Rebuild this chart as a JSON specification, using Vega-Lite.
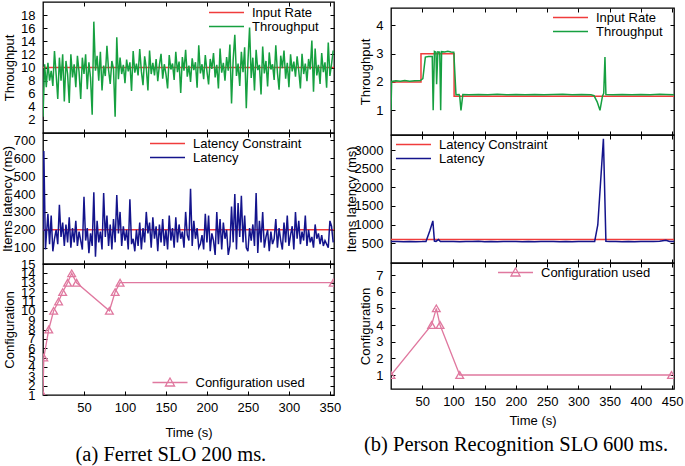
{
"$schema":"https://vega.github.io/schema/vega-lite/v6.json",
"background":"white",
"padding":{"left":0,"top":0,"right":5,"bottom":5},
"config":{
 "view":{"stroke":"black","strokeWidth":1.3},
 "axis":{"grid":false,"domain":false,"tickSize":-4,"tickColor":"black","tickWidth":1,"labelFont":"Liberation Sans","labelFontSize":13,"labelColor":"black","titleFont":"Liberation Sans","titleFontSize":13,"titleFontWeight":"normal","titleColor":"black","labelFlush":false,"labelOverlap":false,"format":"d"},
 "axisLeft":{"labelPadding":12},
 "axisBottom":{"labelPadding":10},
 "legend":{"orient":"none","labelFont":"Liberation Sans","labelFontSize":13,"labelColor":"black","symbolSize":49,"symbolStrokeWidth":1.5,"labelOffset":19,"rowPadding":-3,"padding":0,"symbolType":"M-5,0H5","symbolFillColor":"transparent"},
 "title":{"font":"Liberation Serif","fontSize":20.5,"fontWeight":"normal","color":"black"}
},
"spacing":2,
"resolve":{"scale":{"color":"independent"},"legend":{"color":"independent"}},
"hconcat":[
{
 "bounds":"flush","spacing":0,
 "resolve":{"scale":{"color":"independent"},"legend":{"color":"independent"}},
 "title":{"text":"(a) Ferret SLO 200 ms.","orient":"bottom","anchor":"middle","dx":0,"offset":5},
 "vconcat":[
 {
  "width":291,"height":131,
  "layer":[
   {"data":{"values":[{"t":0,"v":10},{"t":355,"v":10}]},
    "mark":{"type":"line","strokeWidth":1.5,"clip":true},
    "encoding":{
     "x":{"field":"t","type":"quantitative","scale":{"domain":[0,355],"nice":false,"zero":false},"axis":{"orient":"bottom","values":[50,100,150,200,250,300,350],"labels":false,"title":null}},
     "y":{"field":"v","type":"quantitative","scale":{"domain":[0,20],"nice":false,"zero":false},"axis":{"orient":"left","values":[2,4,6,8,10,12,14,16,18],"title":"Throughput","titleX":-34,"titleY":65.5,"titleAngle":-90,"titleAlign":"center","titleBaseline":"middle"}},
     "color":{"datum":"Input Rate","type":"nominal","scale":{"domain":["Input Rate","Throughput"],"range":["#f03c3c","#16a040"]},"legend":{"title":null,"legendX":177,"legendY":4}}
    }},
   {"data":{"values":[{"t":0,"v":2.5},{"t":2,"v":10.5},{"t":4,"v":7},{"t":6,"v":10.7},{"t":8,"v":8},{"t":10,"v":9.5},{"t":12,"v":7.2},{"t":14,"v":12.5},{"t":16,"v":9},{"t":18,"v":5.2},{"t":20,"v":11.5},{"t":22,"v":8},{"t":24,"v":12},{"t":26,"v":4.8},{"t":28,"v":11},{"t":30,"v":9},{"t":32,"v":4.6},{"t":34,"v":12},{"t":36,"v":8.5},{"t":38,"v":10.5},{"t":40,"v":7},{"t":42,"v":11.8},{"t":44,"v":9.3},{"t":46,"v":5.2},{"t":48,"v":11.5},{"t":50,"v":9},{"t":52,"v":12},{"t":54,"v":6.7},{"t":56,"v":10.8},{"t":58,"v":8.4},{"t":60,"v":2.8},{"t":62,"v":17},{"t":64,"v":9.5},{"t":66,"v":11.8},{"t":68,"v":8},{"t":70,"v":12.4},{"t":72,"v":6.5},{"t":74,"v":10.3},{"t":76,"v":8.7},{"t":78,"v":13.3},{"t":80,"v":9.6},{"t":82,"v":7.5},{"t":84,"v":11},{"t":86,"v":9.8},{"t":88,"v":2.5},{"t":90,"v":14.6},{"t":92,"v":8.2},{"t":94,"v":11.5},{"t":96,"v":9},{"t":98,"v":10.4},{"t":100,"v":7.6},{"t":102,"v":11.2},{"t":104,"v":9.4},{"t":106,"v":10.8},{"t":108,"v":6.4},{"t":110,"v":12.5},{"t":112,"v":9.2},{"t":114,"v":10.6},{"t":116,"v":8.8},{"t":118,"v":12.8},{"t":120,"v":9.4},{"t":122,"v":7.3},{"t":124,"v":11.7},{"t":126,"v":9.9},{"t":128,"v":6.5},{"t":130,"v":12.6},{"t":132,"v":9},{"t":134,"v":10.7},{"t":136,"v":8.8},{"t":138,"v":11.3},{"t":140,"v":7.9},{"t":142,"v":10.4},{"t":144,"v":12.1},{"t":146,"v":8.3},{"t":148,"v":10.5},{"t":150,"v":9},{"t":152,"v":6.8},{"t":154,"v":11.9},{"t":156,"v":9.7},{"t":158,"v":10.6},{"t":160,"v":8.1},{"t":162,"v":12.4},{"t":164,"v":9.3},{"t":166,"v":10.9},{"t":168,"v":6.1},{"t":170,"v":11.6},{"t":172,"v":9.5},{"t":174,"v":12.7},{"t":176,"v":8.6},{"t":178,"v":10.3},{"t":180,"v":7.8},{"t":182,"v":11.4},{"t":184,"v":9.6},{"t":186,"v":10.8},{"t":188,"v":6.9},{"t":190,"v":13.4},{"t":192,"v":9.1},{"t":194,"v":10.5},{"t":196,"v":8.2},{"t":198,"v":11.9},{"t":200,"v":9.4},{"t":202,"v":7.4},{"t":204,"v":11.3},{"t":206,"v":9.8},{"t":208,"v":12.2},{"t":210,"v":8.5},{"t":212,"v":10.4},{"t":214,"v":6.8},{"t":216,"v":12.9},{"t":218,"v":9.2},{"t":220,"v":10.7},{"t":222,"v":8},{"t":224,"v":11.6},{"t":226,"v":9.5},{"t":228,"v":13.5},{"t":230,"v":4.5},{"t":232,"v":11.2},{"t":234,"v":15},{"t":236,"v":8.7},{"t":238,"v":10.6},{"t":240,"v":7.2},{"t":242,"v":12.4},{"t":244,"v":9.3},{"t":246,"v":13.1},{"t":248,"v":3.8},{"t":250,"v":10.9},{"t":252,"v":16.1},{"t":254,"v":8.4},{"t":256,"v":11.5},{"t":258,"v":6.5},{"t":260,"v":12.7},{"t":262,"v":9.6},{"t":264,"v":10.4},{"t":266,"v":5.9},{"t":268,"v":13.2},{"t":270,"v":9.1},{"t":272,"v":11},{"t":274,"v":7.1},{"t":276,"v":12.3},{"t":278,"v":9.7},{"t":280,"v":10.5},{"t":282,"v":8.1},{"t":284,"v":13.4},{"t":286,"v":9.2},{"t":288,"v":6.6},{"t":290,"v":11.8},{"t":292,"v":9.9},{"t":294,"v":12.6},{"t":296,"v":8.3},{"t":298,"v":10.7},{"t":300,"v":7},{"t":302,"v":12},{"t":304,"v":9.4},{"t":306,"v":10.9},{"t":308,"v":8.6},{"t":310,"v":11.7},{"t":312,"v":9.5},{"t":314,"v":6.8},{"t":316,"v":12.1},{"t":318,"v":9},{"t":320,"v":10.6},{"t":322,"v":7.9},{"t":324,"v":11.3},{"t":326,"v":9.7},{"t":328,"v":14.1},{"t":330,"v":6.3},{"t":332,"v":12.9},{"t":334,"v":8.8},{"t":336,"v":10.4},{"t":338,"v":7.5},{"t":340,"v":12.2},{"t":342,"v":9.3},{"t":344,"v":10.8},{"t":346,"v":6.9},{"t":348,"v":13.8},{"t":350,"v":8.7},{"t":352,"v":10.5},{"t":354,"v":12.6}]},
    "mark":{"type":"line","strokeWidth":1.5,"clip":true},
    "encoding":{"x":{"field":"t","type":"quantitative","axis":null},"y":{"field":"v","type":"quantitative","axis":null},"color":{"datum":"Throughput","type":"nominal"}}},
   {"data":{"values":[{"t":0,"v":0}]},"mark":{"type":"point","opacity":0,"size":0},
    "encoding":{"x":{"field":"t","type":"quantitative","axis":{"orient":"top","values":[50,100,150,200,250,300,350],"labels":false,"title":null}},"y":{"field":"v","type":"quantitative","axis":{"orient":"right","values":[2,4,6,8,10,12,14,16,18],"labels":false,"title":null}}}}
  ],
  "resolve":{"axis":{"x":"independent","y":"independent"}}
 },
 {
  "width":291,"height":131,
  "layer":[
   {"data":{"values":[{"t":0,"v":200},{"t":355,"v":200}]},
    "mark":{"type":"line","strokeWidth":1.5,"clip":true},
    "encoding":{
     "x":{"field":"t","type":"quantitative","scale":{"domain":[0,355],"nice":false,"zero":false},"axis":{"orient":"bottom","values":[50,100,150,200,250,300,350],"labels":false,"title":null}},
     "y":{"field":"v","type":"quantitative","scale":{"domain":[9,741],"nice":false,"zero":false},"axis":{"orient":"left","values":[100,200,300,400,500,600,700],"title":"Items latency (ms)","titleX":-36,"titleY":65.5,"titleAngle":-90,"titleAlign":"center","titleBaseline":"middle"}},
     "color":{"datum":"Latency Constraint","type":"nominal","scale":{"domain":["Latency Constraint","Latency"],"range":["#f03c3c","#14148c"]},"legend":{"title":null,"legendX":118,"legendY":4}}
    }},
   {"data":{"values":[{"t":0,"v":190},{"t":1,"v":640},{"t":3,"v":90},{"t":4,"v":160},{"t":6,"v":290},{"t":8,"v":120},{"t":10,"v":280},{"t":12,"v":80},{"t":14,"v":150},{"t":16,"v":200},{"t":18,"v":120},{"t":20,"v":340},{"t":22,"v":160},{"t":24,"v":240},{"t":26,"v":110},{"t":28,"v":230},{"t":30,"v":130},{"t":32,"v":270},{"t":34,"v":100},{"t":36,"v":210},{"t":38,"v":130},{"t":40,"v":250},{"t":42,"v":110},{"t":44,"v":190},{"t":46,"v":140},{"t":48,"v":90},{"t":50,"v":385},{"t":52,"v":140},{"t":54,"v":210},{"t":56,"v":70},{"t":58,"v":180},{"t":60,"v":110},{"t":62,"v":410},{"t":64,"v":50},{"t":66,"v":250},{"t":68,"v":130},{"t":70,"v":190},{"t":72,"v":90},{"t":74,"v":405},{"t":76,"v":160},{"t":78,"v":280},{"t":80,"v":110},{"t":82,"v":230},{"t":84,"v":90},{"t":86,"v":260},{"t":88,"v":130},{"t":90,"v":395},{"t":92,"v":180},{"t":94,"v":300},{"t":96,"v":110},{"t":98,"v":220},{"t":100,"v":140},{"t":102,"v":200},{"t":104,"v":90},{"t":106,"v":370},{"t":108,"v":120},{"t":110,"v":150},{"t":112,"v":80},{"t":114,"v":200},{"t":116,"v":110},{"t":118,"v":240},{"t":120,"v":90},{"t":122,"v":210},{"t":124,"v":130},{"t":126,"v":300},{"t":128,"v":180},{"t":130,"v":240},{"t":132,"v":100},{"t":134,"v":270},{"t":136,"v":150},{"t":138,"v":220},{"t":140,"v":80},{"t":142,"v":230},{"t":144,"v":130},{"t":146,"v":260},{"t":148,"v":110},{"t":150,"v":200},{"t":152,"v":90},{"t":154,"v":280},{"t":156,"v":140},{"t":158,"v":210},{"t":160,"v":100},{"t":162,"v":270},{"t":164,"v":130},{"t":166,"v":230},{"t":168,"v":150},{"t":170,"v":190},{"t":172,"v":100},{"t":174,"v":300},{"t":176,"v":170},{"t":178,"v":140},{"t":180,"v":430},{"t":182,"v":110},{"t":184,"v":250},{"t":186,"v":150},{"t":188,"v":210},{"t":190,"v":100},{"t":192,"v":120},{"t":194,"v":170},{"t":196,"v":90},{"t":198,"v":290},{"t":200,"v":130},{"t":202,"v":280},{"t":204,"v":80},{"t":206,"v":180},{"t":208,"v":140},{"t":210,"v":60},{"t":212,"v":300},{"t":214,"v":120},{"t":216,"v":260},{"t":218,"v":90},{"t":220,"v":240},{"t":222,"v":150},{"t":224,"v":200},{"t":226,"v":60},{"t":228,"v":110},{"t":230,"v":330},{"t":232,"v":130},{"t":234,"v":400},{"t":236,"v":90},{"t":238,"v":350},{"t":240,"v":160},{"t":242,"v":390},{"t":244,"v":130},{"t":246,"v":280},{"t":248,"v":100},{"t":250,"v":80},{"t":252,"v":210},{"t":254,"v":140},{"t":256,"v":230},{"t":258,"v":110},{"t":260,"v":405},{"t":262,"v":70},{"t":264,"v":250},{"t":266,"v":130},{"t":268,"v":300},{"t":270,"v":100},{"t":272,"v":160},{"t":274,"v":200},{"t":276,"v":80},{"t":278,"v":190},{"t":280,"v":120},{"t":282,"v":150},{"t":284,"v":260},{"t":286,"v":100},{"t":288,"v":210},{"t":290,"v":140},{"t":292,"v":90},{"t":294,"v":240},{"t":296,"v":130},{"t":298,"v":280},{"t":300,"v":110},{"t":302,"v":170},{"t":304,"v":220},{"t":306,"v":90},{"t":308,"v":300},{"t":310,"v":150},{"t":312,"v":250},{"t":314,"v":120},{"t":316,"v":190},{"t":318,"v":140},{"t":320,"v":280},{"t":322,"v":110},{"t":324,"v":200},{"t":326,"v":130},{"t":328,"v":160},{"t":330,"v":100},{"t":332,"v":230},{"t":334,"v":150},{"t":336,"v":180},{"t":338,"v":120},{"t":340,"v":170},{"t":342,"v":110},{"t":344,"v":140},{"t":346,"v":120},{"t":348,"v":100},{"t":350,"v":250},{"t":352,"v":220},{"t":354,"v":130}]},
    "mark":{"type":"line","strokeWidth":1.5,"clip":true},
    "encoding":{"x":{"field":"t","type":"quantitative","axis":null},"y":{"field":"v","type":"quantitative","axis":null},"color":{"datum":"Latency","type":"nominal"}}},
   {"data":{"values":[{"t":0,"v":100}]},"mark":{"type":"point","opacity":0,"size":0},
    "encoding":{"x":{"field":"t","type":"quantitative","axis":{"orient":"top","values":[50,100,150,200,250,300,350],"labels":false,"title":null}},"y":{"field":"v","type":"quantitative","axis":{"orient":"right","values":[100,200,300,400,500,600,700],"labels":false,"title":null}}}}
  ],
  "resolve":{"axis":{"x":"independent","y":"independent"}}
 },
 {
  "width":291,"height":131,
  "data":{"values":[{"t":0,"v":1},{"t":1,"v":5},{"t":7,"v":8},{"t":13,"v":10},{"t":19,"v":11},{"t":24,"v":12},{"t":30,"v":13},{"t":35,"v":14},{"t":41,"v":13},{"t":81,"v":10},{"t":88,"v":12},{"t":94,"v":13},{"t":354,"v":13}]},
  "layer":[
   {"mark":{"type":"line","strokeWidth":1.3,"clip":true},
    "encoding":{
     "x":{"field":"t","type":"quantitative","scale":{"domain":[0,355],"nice":false,"zero":false},"axis":{"orient":"bottom","values":[50,100,150,200,250,300,350],"title":"Time (s)","titleY":37,"titleBaseline":"middle"}},
     "y":{"field":"v","type":"quantitative","scale":{"domain":[1,15],"nice":false,"zero":false},"axis":{"orient":"left","values":[1,2,3,4,5,6,7,8,9,10,11,12,13,14,15],"title":"Configuration","titleX":-34,"titleY":65.5,"titleAngle":-90,"titleAlign":"center","titleBaseline":"middle"}},
     "color":{"datum":"Configuration used","type":"nominal","scale":{"domain":["Configuration used"],"range":["#e0789f"]},"legend":{"title":null,"legendX":120.5,"legendY":112,"symbolType":"M-5,0H5M0,-1.3L1.3,1L-1.3,1Z","symbolStrokeWidth":1.3}}
    }},
   {"mark":{"type":"point","shape":"triangle-up","filled":false,"size":60,"strokeWidth":1.3,"color":"#e0789f","opacity":1,"clip":true},
    "encoding":{"x":{"field":"t","type":"quantitative","axis":null},"y":{"field":"v","type":"quantitative","axis":null}}},
   {"data":{"values":[{"t":0,"v":1}]},"mark":{"type":"point","opacity":0,"size":0},
    "encoding":{"x":{"field":"t","type":"quantitative","axis":{"orient":"top","values":[50,100,150,200,250,300,350],"labels":false,"title":null}},"y":{"field":"v","type":"quantitative","axis":{"orient":"right","values":[1,2,3,4,5,6,7,8,9,10,11,12,13,14,15],"labels":false,"title":null}}}}
  ],
  "resolve":{"axis":{"x":"independent","y":"independent"}}
 }
 ]
},
{
 "bounds":"flush","spacing":0,
 "resolve":{"scale":{"color":"independent"},"legend":{"color":"independent"}},
 "title":{"text":"(b) Person Recognition SLO 600 ms.","orient":"bottom","anchor":"middle","dx":2,"offset":7},
 "vconcat":[
 {"width":283,"height":6,"data":{"values":[{"a":0}]},"mark":{"type":"point","opacity":0,"size":0},"encoding":{},"view":{"stroke":null}},
 {
  "width":283,"height":127,
  "layer":[
   {"data":{"values":[{"t":0,"v":2},{"t":48,"v":2},{"t":48,"v":3},{"t":101,"v":3},{"t":101,"v":1.5},{"t":453,"v":1.5}]},
    "mark":{"type":"line","strokeWidth":1.5,"clip":true},
    "encoding":{
     "x":{"field":"t","type":"quantitative","scale":{"domain":[0,453],"nice":false,"zero":false},"axis":{"orient":"bottom","values":[50,100,150,200,250,300,350,400,450],"labels":false,"title":null}},
     "y":{"field":"v","type":"quantitative","scale":{"domain":[0.13,4.61],"nice":false,"zero":false},"axis":{"orient":"left","values":[1,2,3,4],"title":"Throughput","titleX":-26,"titleY":63.5,"titleAngle":-90,"titleAlign":"center","titleBaseline":"middle"}},
     "color":{"datum":"Input Rate","type":"nominal","scale":{"domain":["Input Rate","Throughput"],"range":["#f03c3c","#16a040"]},"legend":{"title":null,"legendX":173,"legendY":3}}
    }},
   {"data":{"values":[{"t":0,"v":1.0},{"t":1,"v":2.02},{"t":8,"v":2.04},{"t":15,"v":2.03},{"t":22,"v":2.05},{"t":30,"v":2.03},{"t":38,"v":2.04},{"t":47,"v":2.05},{"t":51,"v":2.12},{"t":55,"v":2.88},{"t":60,"v":2.9},{"t":66,"v":2.9},{"t":67.5,"v":1.0},{"t":69.5,"v":3.08},{"t":72,"v":3.05},{"t":73,"v":1.92},{"t":75,"v":3.06},{"t":78,"v":3.05},{"t":79.5,"v":1.0},{"t":81,"v":3.07},{"t":86,"v":3.06},{"t":91,"v":3.08},{"t":96,"v":3.06},{"t":100.5,"v":3.05},{"t":104,"v":1.55},{"t":109,"v":1.56},{"t":110,"v":1.5},{"t":112,"v":1.0},{"t":115,"v":1.56},{"t":125,"v":1.55},{"t":140,"v":1.56},{"t":155,"v":1.55},{"t":170,"v":1.57},{"t":185,"v":1.55},{"t":200,"v":1.56},{"t":215,"v":1.55},{"t":230,"v":1.56},{"t":245,"v":1.55},{"t":260,"v":1.56},{"t":275,"v":1.57},{"t":290,"v":1.55},{"t":305,"v":1.56},{"t":320,"v":1.55},{"t":325,"v":1.52},{"t":330,"v":1.3},{"t":334.5,"v":1.0},{"t":338.5,"v":1.5},{"t":340.5,"v":1.6},{"t":342.5,"v":2.88},{"t":344,"v":1.56},{"t":355,"v":1.55},{"t":370,"v":1.56},{"t":385,"v":1.55},{"t":400,"v":1.56},{"t":415,"v":1.55},{"t":430,"v":1.57},{"t":440,"v":1.56},{"t":453,"v":1.55}]},
    "mark":{"type":"line","strokeWidth":1.5,"clip":true},
    "encoding":{"x":{"field":"t","type":"quantitative","axis":null},"y":{"field":"v","type":"quantitative","axis":null},"color":{"datum":"Throughput","type":"nominal"}}},
   {"data":{"values":[{"t":0,"v":1}]},"mark":{"type":"point","opacity":0,"size":0},
    "encoding":{"x":{"field":"t","type":"quantitative","axis":{"orient":"top","values":[50,100,150,200,250,300,350,400,450],"labels":false,"title":null}},"y":{"field":"v","type":"quantitative","axis":{"orient":"right","values":[1,2,3,4],"labels":false,"title":null}}}}
  ],
  "resolve":{"axis":{"x":"independent","y":"independent"}}
 },
 {
  "width":283,"height":128,
  "layer":[
   {"data":{"values":[{"t":0,"v":600},{"t":453,"v":600}]},
    "mark":{"type":"line","strokeWidth":1.5,"clip":true},
    "encoding":{
     "x":{"field":"t","type":"quantitative","scale":{"domain":[0,453],"nice":false,"zero":false},"axis":{"orient":"bottom","values":[50,100,150,200,250,300,350,400,450],"labels":false,"title":null}},
     "y":{"field":"v","type":"quantitative","scale":{"domain":[-28,3402],"nice":false,"zero":false},"axis":{"orient":"left","values":[500,1000,1500,2000,2500,3000],"title":"Items latency (ms)","titleX":-40,"titleY":64,"titleAngle":-90,"titleAlign":"center","titleBaseline":"middle"}},
     "color":{"datum":"Latency Constraint","type":"nominal","scale":{"domain":["Latency Constraint","Latency"],"range":["#f03c3c","#14148c"]},"legend":{"title":null,"legendX":16,"legendY":3}}
    }},
   {"data":{"values":[{"t":0,"v":545},{"t":10,"v":548},{"t":20,"v":543},{"t":30,"v":547},{"t":40,"v":544},{"t":50,"v":546},{"t":56,"v":550},{"t":62,"v":830},{"t":67,"v":1100},{"t":69.5,"v":560},{"t":72,"v":550},{"t":76,"v":600},{"t":79,"v":548},{"t":90,"v":545},{"t":100,"v":550},{"t":110,"v":543},{"t":120,"v":548},{"t":130,"v":545},{"t":140,"v":552},{"t":150,"v":544},{"t":160,"v":547},{"t":170,"v":543},{"t":180,"v":549},{"t":190,"v":545},{"t":200,"v":550},{"t":210,"v":544},{"t":220,"v":547},{"t":230,"v":543},{"t":240,"v":548},{"t":250,"v":545},{"t":260,"v":550},{"t":270,"v":544},{"t":280,"v":546},{"t":290,"v":543},{"t":300,"v":548},{"t":310,"v":545},{"t":320,"v":547},{"t":326,"v":550},{"t":331,"v":990},{"t":340,"v":3300},{"t":344,"v":555},{"t":350,"v":545},{"t":360,"v":548},{"t":370,"v":544},{"t":380,"v":547},{"t":390,"v":543},{"t":400,"v":548},{"t":410,"v":545},{"t":420,"v":550},{"t":430,"v":556},{"t":440,"v":580},{"t":446,"v":550},{"t":453,"v":545}]},
    "mark":{"type":"line","strokeWidth":1.5,"clip":true},
    "encoding":{"x":{"field":"t","type":"quantitative","axis":null},"y":{"field":"v","type":"quantitative","axis":null},"color":{"datum":"Latency","type":"nominal"}}},
   {"data":{"values":[{"t":0,"v":500}]},"mark":{"type":"point","opacity":0,"size":0},
    "encoding":{"x":{"field":"t","type":"quantitative","axis":{"orient":"top","values":[50,100,150,200,250,300,350,400,450],"labels":false,"title":null}},"y":{"field":"v","type":"quantitative","axis":{"orient":"right","values":[500,1000,1500,2000,2500,3000],"labels":false,"title":null}}}}
  ],
  "resolve":{"axis":{"x":"independent","y":"independent"}}
 },
 {
  "width":283,"height":126,
  "data":{"values":[{"t":0,"v":1},{"t":65,"v":4},{"t":72.5,"v":5},{"t":78.5,"v":4},{"t":110,"v":1},{"t":449,"v":1}]},
  "layer":[
   {"mark":{"type":"line","strokeWidth":1.3,"clip":true},
    "encoding":{
     "x":{"field":"t","type":"quantitative","scale":{"domain":[0,453],"nice":false,"zero":false},"axis":{"orient":"bottom","values":[50,100,150,200,250,300,350,400,450],"title":"Time (s)","titleY":31,"titleBaseline":"middle"}},
     "y":{"field":"v","type":"quantitative","scale":{"domain":[0.16,7.72],"nice":false,"zero":false},"axis":{"orient":"left","values":[1,2,3,4,5,6,7],"title":"Configuration","titleX":-26,"titleY":63,"titleAngle":-90,"titleAlign":"center","titleBaseline":"middle"}},
     "color":{"datum":"Configuration used","type":"nominal","scale":{"domain":["Configuration used"],"range":["#e0789f"]},"legend":{"title":null,"legendX":118,"legendY":3,"symbolType":"M-5,0H5M0,-1.3L1.3,1L-1.3,1Z","symbolStrokeWidth":1.3}}
    }},
   {"mark":{"type":"point","shape":"triangle-up","filled":false,"size":60,"strokeWidth":1.3,"color":"#e0789f","opacity":1,"clip":true},
    "encoding":{"x":{"field":"t","type":"quantitative","axis":null},"y":{"field":"v","type":"quantitative","axis":null}}},
   {"data":{"values":[{"t":0,"v":1}]},"mark":{"type":"point","opacity":0,"size":0},
    "encoding":{"x":{"field":"t","type":"quantitative","axis":{"orient":"top","values":[50,100,150,200,250,300,350,400,450],"labels":false,"title":null}},"y":{"field":"v","type":"quantitative","axis":{"orient":"right","values":[1,2,3,4,5,6,7],"labels":false,"title":null}}}}
  ],
  "resolve":{"axis":{"x":"independent","y":"independent"}}
 }
 ]
}
]
}
